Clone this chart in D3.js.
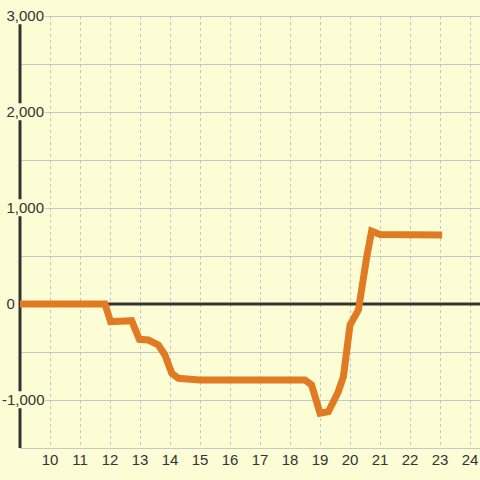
<!DOCTYPE html>
<html lang="en">
  <head>
    <meta charset="UTF-8" />
    <title>Line chart</title>
    <style>
      body {
        margin: 0;
        background: #fcfcd5;
      }
      svg text {
        font-family: "Liberation Sans", Arial, sans-serif;
        font-size: 15px;
        fill: #333;
      }
    </style>
  </head>
  <body>
    <div id="chart"></div>
    <script src="https://d3js.org/d3.v7.min.js"></script>
    <script>
      // data
      const xs = [
        9, 11.83, 12.02, 12.72, 12.98, 13.28, 13.61, 13.83, 14.06, 14.28,
        14.67, 15, 18.5, 18.72, 19, 19.28, 19.6, 19.78, 20, 20.28, 20.56,
        20.72, 21, 23.07,
      ];
      const ys = [
        0, 0, -184, -174, -368, -375, -427, -531, -722, -774, -784, -792,
        -792, -843, -1137, -1122, -920, -757, -219, -62, 493, 760, 725, 719,
      ];
      const xTicks = [10, 11, 12, 13, 14, 15, 16, 17, 18, 19, 20, 21, 22, 23, 24];
      const yLabels = [3000, 2000, 1000, 0, -1000];
      const yGrid = [3000, 2500, 2000, 1500, 1000, 500, -500, -1000, -1500];

      const width = 480,
        height = 480;
      const bg = "#fcfcd5";

      const x = d3.scaleLinear().domain([9, 24.333]).range([20, 480]);
      const y = d3.scaleLinear().domain([-1500, 3000]).range([448, 16]);

      const svg = d3
        .select("#chart")
        .append("svg")
        .attr("width", width)
        .attr("height", height)
        .style("background", bg);

      // horizontal grid
      svg
        .selectAll(".hgrid")
        .data(yGrid)
        .enter()
        .append("line")
        .attr("x1", 20)
        .attr("x2", 480)
        .attr("y1", (d) => y(d) + 0.5)
        .attr("y2", (d) => y(d) + 0.5)
        .attr("stroke", "#c8c8c8")
        .attr("stroke-width", 1);

      // vertical dashed grid
      svg
        .selectAll(".vgrid")
        .data(xTicks)
        .enter()
        .append("line")
        .attr("x1", (d) => Math.round(x(d)) + 0.5)
        .attr("x2", (d) => Math.round(x(d)) + 0.5)
        .attr("y1", y(3000))
        .attr("y2", y(-1500))
        .attr("stroke", "#c4c4c4")
        .attr("stroke-dasharray", "3,3");

      // zero line
      svg
        .append("line")
        .attr("x1", 20)
        .attr("x2", 480)
        .attr("y1", y(0))
        .attr("y2", y(0))
        .attr("stroke", "#333")
        .attr("stroke-width", 3);

      // y axis line
      svg
        .append("line")
        .attr("x1", 20)
        .attr("x2", 20)
        .attr("y1", y(3000))
        .attr("y2", y(-1500))
        .attr("stroke", "#333")
        .attr("stroke-width", 3);

      // y labels, left aligned with the minus hanging out, on a background box
      const fmt = d3.format(",");
      const yl = svg
        .selectAll(".ylab")
        .data(yLabels)
        .enter()
        .append("g")
        .attr("transform", (d) => `translate(${d < 0 ? 2 : 6.5},${y(d)})`);
      yl.append("text")
        .attr("dy", "0.35em")
        .text((d) => fmt(d).replace("−", "-"))
        .each(function () {
          const b = this.getBBox();
          d3.select(this.parentNode)
            .insert("rect", "text")
            .attr("x", b.x - 1)
            .attr("y", b.y)
            .attr("width", b.width + 2)
            .attr("height", b.height)
            .attr("fill", bg);
        });

      // x labels
      svg
        .selectAll(".xlab")
        .data(xTicks)
        .enter()
        .append("text")
        .attr("x", (d) => x(d))
        .attr("y", 460)
        .attr("dy", "0.35em")
        .attr("text-anchor", "middle")
        .text((d) => d);

      // line
      const pts = xs.map((v, i) => [v, ys[i]]);
      svg
        .append("path")
        .datum(pts)
        .attr("fill", "none")
        .attr("stroke", "#e07b24")
        .attr("stroke-width", 7)
        .attr(
          "d",
          d3
            .line()
            .x((d) => x(d[0]))
            .y((d) => y(d[1]))
        );
    </script>
  </body>
</html>
